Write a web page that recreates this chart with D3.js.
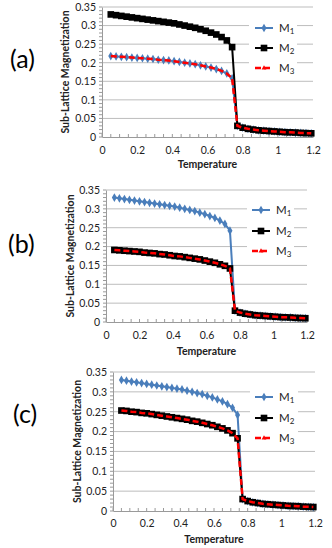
<!DOCTYPE html>
<html><head><meta charset="utf-8">
<script src="https://cdn.jsdelivr.net/npm/d3@7"></script>
<style>body{margin:0;background:#fff}svg{display:block}text{font-family:Lato,"Open Sans",sans-serif}</style>
</head><body>
<script>
// Temperatures (shared x values)
const temperature = [0.05,0.08,0.11,0.14,0.17,0.20,0.23,0.26,0.29,0.32,0.35,0.38,0.41,0.44,0.47,0.50,0.53,0.56,0.59,0.62,0.65,0.68,0.71,0.74,
  0.77,0.80,0.83,0.86,0.89,0.92,0.95,0.98,1.01,1.04,1.07,1.10,1.13,1.16,1.19];
// High-temperature tail shared by all sub-lattices
const tail = [0.030,0.025,0.022,0.020,0.018,0.017,0.016,0.015,0.014,0.013,0.0125,0.012,0.011,0.0105,0.010];
// Ordered-phase branches
const upper = [0.330,0.328,0.326,0.324,0.322,0.320,0.318,0.316,0.314,0.312,0.310,0.308,0.306,0.303,0.300,0.297,0.294,0.290,0.286,0.281,0.276,0.269,0.260,0.242];
const lowerA = [0.218,0.217,0.216,0.215,0.214,0.213,0.212,0.211,0.210,0.208,0.207,0.206,0.204,0.202,0.200,0.198,0.196,0.193,0.190,0.187,0.183,0.178,0.171,0.158];
const lowerB = [0.191,0.190,0.189,0.188,0.187,0.186,0.184,0.183,0.182,0.180,0.179,0.177,0.175,0.174,0.172,0.170,0.168,0.166,0.163,0.160,0.157,0.153,0.149,0.142];
const lowerC = [0.253,0.252,0.250,0.249,0.247,0.246,0.244,0.242,0.240,0.238,0.236,0.234,0.232,0.230,0.227,0.225,0.222,0.219,0.216,0.212,0.208,0.203,0.196,0.183];
// Panel series (M1, M2, M3)
const panelA = {M1: lowerA.concat(tail), M2: upper.concat(tail), M3: lowerA.concat(tail)};
const panelB = {M1: upper.concat(tail), M2: lowerB.concat(tail), M3: lowerB.concat(tail)};
const panelC = {M1: upper.concat(tail), M2: lowerC.concat(tail), M3: lowerC.concat(tail)};
const xTicks = [0,0.2,0.4,0.6,0.8,1,1.2];
const yTicks = [0,0.05,0.1,0.15,0.2,0.25,0.3,0.35];
const seriesNames = ["M1","M2","M3"];
const panelLabels = ["(a)","(b)","(c)"];

const W = 332, H = 548;
const svg = d3.select("body").append("svg").attr("width",W).attr("height",H);

const layouts = [
  {data:panelA, x0:102, x1:313, yt:7,   yb:137, ylabX:65, labX:10, labY:68,  tickY:154, titleY:168, legX:255, legY:[28,48,68], box:[249,18,48,61]},
  {data:panelB, x0:106, x1:307, yt:190, yb:322, ylabX:70, labX:8,  labY:253, tickY:339, titleY:355, legX:252, legY:[210,231,251], box:[247,200,47,61]},
  {data:panelC, x0:113, x1:315, yt:372, yb:511, ylabX:77, labX:13, labY:423, tickY:527, titleY:543, legX:255, legY:[397,418,438], box:[250,387,48,61]}
];

const styles = {
  M1:{color:"#4a7ebb", width:2, dash:null, marker:d3.symbolDiamond, msize:22},
  M2:{color:"#000", width:2, dash:null, marker:d3.symbolSquare, msize:44},
  M3:{color:"#ff0000", width:2.5, dash:"6,3", marker:null, msize:0}
};

layouts.forEach((L,pi)=>{
  const g = svg.append("g");
  const x = d3.scaleLinear().domain([0,1.2]).range([L.x0,L.x1]);
  const y = d3.scaleLinear().domain([0,0.35]).range([L.yb,L.yt]);
  // gridlines
  g.selectAll(".grid").data(yTicks.filter(v=>v>0)).join("line")
    .attr("x1",L.x0).attr("x2",L.x1).attr("y1",d=>y(d)).attr("y2",d=>y(d))
    .attr("stroke","#bdbdbd").attr("stroke-width",1);
  // axes
  const yAx = d3.axisLeft(y).tickValues(yTicks).tickSize(0).tickPadding(6).tickFormat(d=>d===0?"0":String(d));
  const ya = g.append("g").attr("transform",`translate(${L.x0},0)`).call(yAx);
  ya.select(".domain").attr("stroke","#9a9a9a");
  ya.selectAll("text").attr("font-size",10.5).attr("fill","#222");
  const yMinor = d3.range(0,0.3501,0.01);
  g.selectAll(".ym").data(yMinor).join("line")
    .attr("x1",L.x0-3).attr("x2",L.x0).attr("y1",d=>y(d)).attr("y2",d=>y(d)).attr("stroke","#9a9a9a");
  const xAx = d3.axisBottom(x).tickValues(xTicks).tickSize(0).tickPadding(0).tickFormat(d=>String(d));
  const xa = g.append("g").attr("transform",`translate(0,${L.yb})`).call(xAx);
  xa.select(".domain").attr("stroke","#9a9a9a");
  xa.selectAll("text").attr("font-size",10.5).attr("fill","#222").attr("dy",null).attr("y",L.tickY-L.yb);
  const xMinor = d3.range(0,1.2001,0.05);
  g.selectAll(".xm").data(xMinor).join("line")
    .attr("x1",d=>x(d)).attr("x2",d=>x(d)).attr("y1",L.yb-3).attr("y2",L.yb).attr("stroke","#9a9a9a");
  // titles
  g.append("text").attr("x",(L.x0+L.x1)/2).attr("y",L.titleY).attr("text-anchor","middle")
    .attr("font-size",10.5).attr("font-weight","bold").attr("fill","#222").text("Temperature");
  g.append("text").attr("transform",`translate(${L.ylabX},${(L.yt+L.yb)/2}) rotate(-90)`).attr("text-anchor","middle")
    .attr("dy","0.35em").attr("font-size",10.5).attr("font-weight","bold").attr("fill","#222").text("Sub-Lattice Magnetization");
  g.append("text").attr("x",L.labX).attr("y",L.labY).attr("font-size",25).attr("fill","#000").text(panelLabels[pi]);
  // series
  seriesNames.forEach(name=>{
    const s = styles[name];
    const pts = temperature.map((t,i)=>[t,L.data[name][i]]);
    const line = d3.line().x(d=>x(d[0])).y(d=>y(d[1]));
    g.append("path").attr("d",line(pts)).attr("fill","none").attr("stroke",s.color)
      .attr("stroke-width",s.width).attr("stroke-dasharray",s.dash);
    if (s.marker) {
      g.selectAll(null).data(pts).join("path")
        .attr("transform",d=>`translate(${x(d[0])},${y(d[1])})`)
        .attr("d",d3.symbol(s.marker,s.msize)).attr("fill",s.color);
    }
  });
  // legend
  g.append("rect").attr("x",L.box[0]).attr("y",L.box[1]).attr("width",L.box[2]).attr("height",L.box[3]).attr("fill","#fff");
  seriesNames.forEach((name,i)=>{
    const s = styles[name], ly = L.legY[i];
    g.append("line").attr("x1",L.legX).attr("x2",L.legX+18).attr("y1",ly).attr("y2",ly)
      .attr("stroke",s.color).attr("stroke-width",s.width).attr("stroke-dasharray",s.dash);
    if (s.marker) g.append("path").attr("transform",`translate(${L.legX+9},${ly})`).attr("d",d3.symbol(s.marker,s.msize)).attr("fill",s.color);
    else g.append("path").attr("transform",`translate(${L.legX+9},${ly})`).attr("d",d3.symbol(d3.symbolTriangle,10)).attr("fill",s.color);
    const t = g.append("text").attr("x",L.legX+24).attr("y",ly+4).attr("font-size",11.5).attr("fill","#222");
    t.append("tspan").text("M");
    t.append("tspan").attr("font-size",8).attr("dy",2).text(name.slice(1));
  });
});
</script>
</body></html>
